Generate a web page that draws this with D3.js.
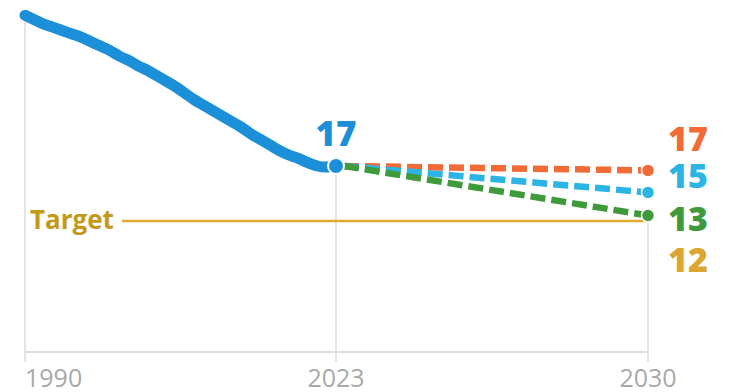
<!DOCTYPE html>
<html>
<head>
<meta charset="utf-8">
<script src="https://cdn.jsdelivr.net/npm/d3@7"></script>
<style>
  body { margin: 0; background: #fff; }
  svg { display: block; font-family: "Open Sans", "Noto Sans", sans-serif; }
</style>
</head>
<body>
<div id="chart"></div>
<script>
// data
var years = d3.range(1990, 2024);
var histValues = [30.7, 30.3, 29.9, 29.6, 29.3, 29.0, 28.7, 28.3, 27.9, 27.5,
                  27.0, 26.6, 26.1, 25.7, 25.2, 24.7, 24.2, 23.6, 23.0, 22.5,
                  22.0, 21.5, 21.0, 20.5, 19.9, 19.4, 18.9, 18.4, 18.0, 17.7,
                  17.3, 17.0, 16.9, 17.0];
var scenarioNames = ['high', 'mid', 'low'];
var scenarioEnd = [16.6, 14.6, 12.5];
var scenarioLabels = ['17', '15', '13'];
var scenarioColors = ['#f26a35', '#2bb4e4', '#3f9a3b'];
var target = 12;
var targetLabel = '12';
var tickYears = [1990, 2023, 2030];

var width = 734, height = 392;

var svg = d3.select('#chart').append('svg')
    .attr('width', width).attr('height', height);

// scales: history and projection get equal widths
var x = d3.scaleLinear().domain([1990, 2023, 2030]).range([25, 336, 648]);
var y = d3.scaleLinear().domain([0, 30]).range([353, 23]);

// grid / axis
svg.append('line')
    .attr('x1', x(1990)).attr('x2', x(2030))
    .attr('y1', 352).attr('y2', 352)
    .attr('stroke', '#dcdcdc').attr('stroke-width', 2);

svg.append('line')
    .attr('x1', x(1990)).attr('x2', x(1990))
    .attr('y1', y(histValues[0])).attr('y2', 362)
    .attr('stroke', '#dcdcdc').attr('stroke-width', 1.5);
svg.append('line')
    .attr('x1', x(2023)).attr('x2', x(2023))
    .attr('y1', y(histValues[histValues.length - 1])).attr('y2', 362)
    .attr('stroke', '#dcdcdc').attr('stroke-width', 1.5);
svg.append('line')
    .attr('x1', x(2030)).attr('x2', x(2030))
    .attr('y1', y(scenarioEnd[2])).attr('y2', 362)
    .attr('stroke', '#dcdcdc').attr('stroke-width', 1.5);

svg.selectAll('.tick-label')
    .data(tickYears).enter().append('text')
    .attr('class', 'tick-label')
    .attr('x', function(d) { return x(d); })
    .attr('y', 387)
    .attr('text-anchor', function(d, i) { return i == 0 ? 'start' : 'middle'; })
    .attr('font-size', 25)
    .attr('fill', '#a9a9a9')
    .text(function(d) { return d; });

// target
svg.append('line')
    .attr('x1', 122).attr('x2', x(2030))
    .attr('y1', y(target)).attr('y2', y(target))
    .attr('stroke', '#e2a930').attr('stroke-width', 2.5);
svg.append('text')
    .attr('x', 30).attr('y', y(target) + 8)
    .attr('font-size', 26).attr('font-weight', 700)
    .attr('fill', '#c3991a')
    .text('Target');

// history line
var hist = years.map(function(d, i) { return {year: d, value: histValues[i]}; });
var line = d3.line()
    .x(function(d) { return x(d.year); })
    .y(function(d) { return y(d.value); })
    .curve(d3.curveMonotoneX);

svg.append('path')
    .datum(hist)
    .attr('fill', 'none')
    .attr('stroke', '#1b8fd8')
    .attr('stroke-width', 11)
    .attr('stroke-linecap', 'round')
    .attr('stroke-linejoin', 'round')
    .attr('d', line);

// scenarios
var last = histValues[histValues.length - 1];
var scen = svg.selectAll('.scen')
    .data(scenarioNames).enter().append('g').attr('class', 'scen');

scen.append('line')
    .attr('x1', x(2023) + 8).attr('y1', y(last))
    .attr('x2', x(2030)).attr('y2', function(d, i) { return y(scenarioEnd[i]); })
    .attr('stroke', function(d, i) { return scenarioColors[i]; })
    .attr('stroke-width', 6.5)
    .attr('stroke-dasharray', '15,6');

scen.append('circle')
    .attr('cx', x(2030)).attr('cy', function(d, i) { return y(scenarioEnd[i]); })
    .attr('r', 6.5)
    .attr('fill', function(d, i) { return scenarioColors[i]; })
    .attr('stroke', '#fff').attr('stroke-width', 1.5);

// 2023 point
svg.append('circle')
    .attr('cx', x(2023)).attr('cy', y(last))
    .attr('r', 8)
    .attr('fill', '#1b8fd8')
    .attr('stroke', '#fff').attr('stroke-width', 2);

svg.append('text')
    .attr('x', x(2023)).attr('y', y(last) - 20)
    .attr('text-anchor', 'middle')
    .attr('font-size', 35).attr('font-weight', 800)
    .attr('fill', '#1b8fd8')
    .text(Math.round(last));

// end labels
var labelY = [151, 188, 231, 272];
svg.selectAll('.end-label')
    .data(scenarioLabels.concat([targetLabel])).enter().append('text')
    .attr('class', 'end-label')
    .attr('x', 668)
    .attr('y', function(d, i) { return labelY[i]; })
    .attr('font-size', 34).attr('font-weight', 800)
    .attr('fill', function(d, i) { return i < 3 ? scenarioColors[i] : '#dca632'; })
    .text(function(d) { return d; });
</script>
</body>
</html>
